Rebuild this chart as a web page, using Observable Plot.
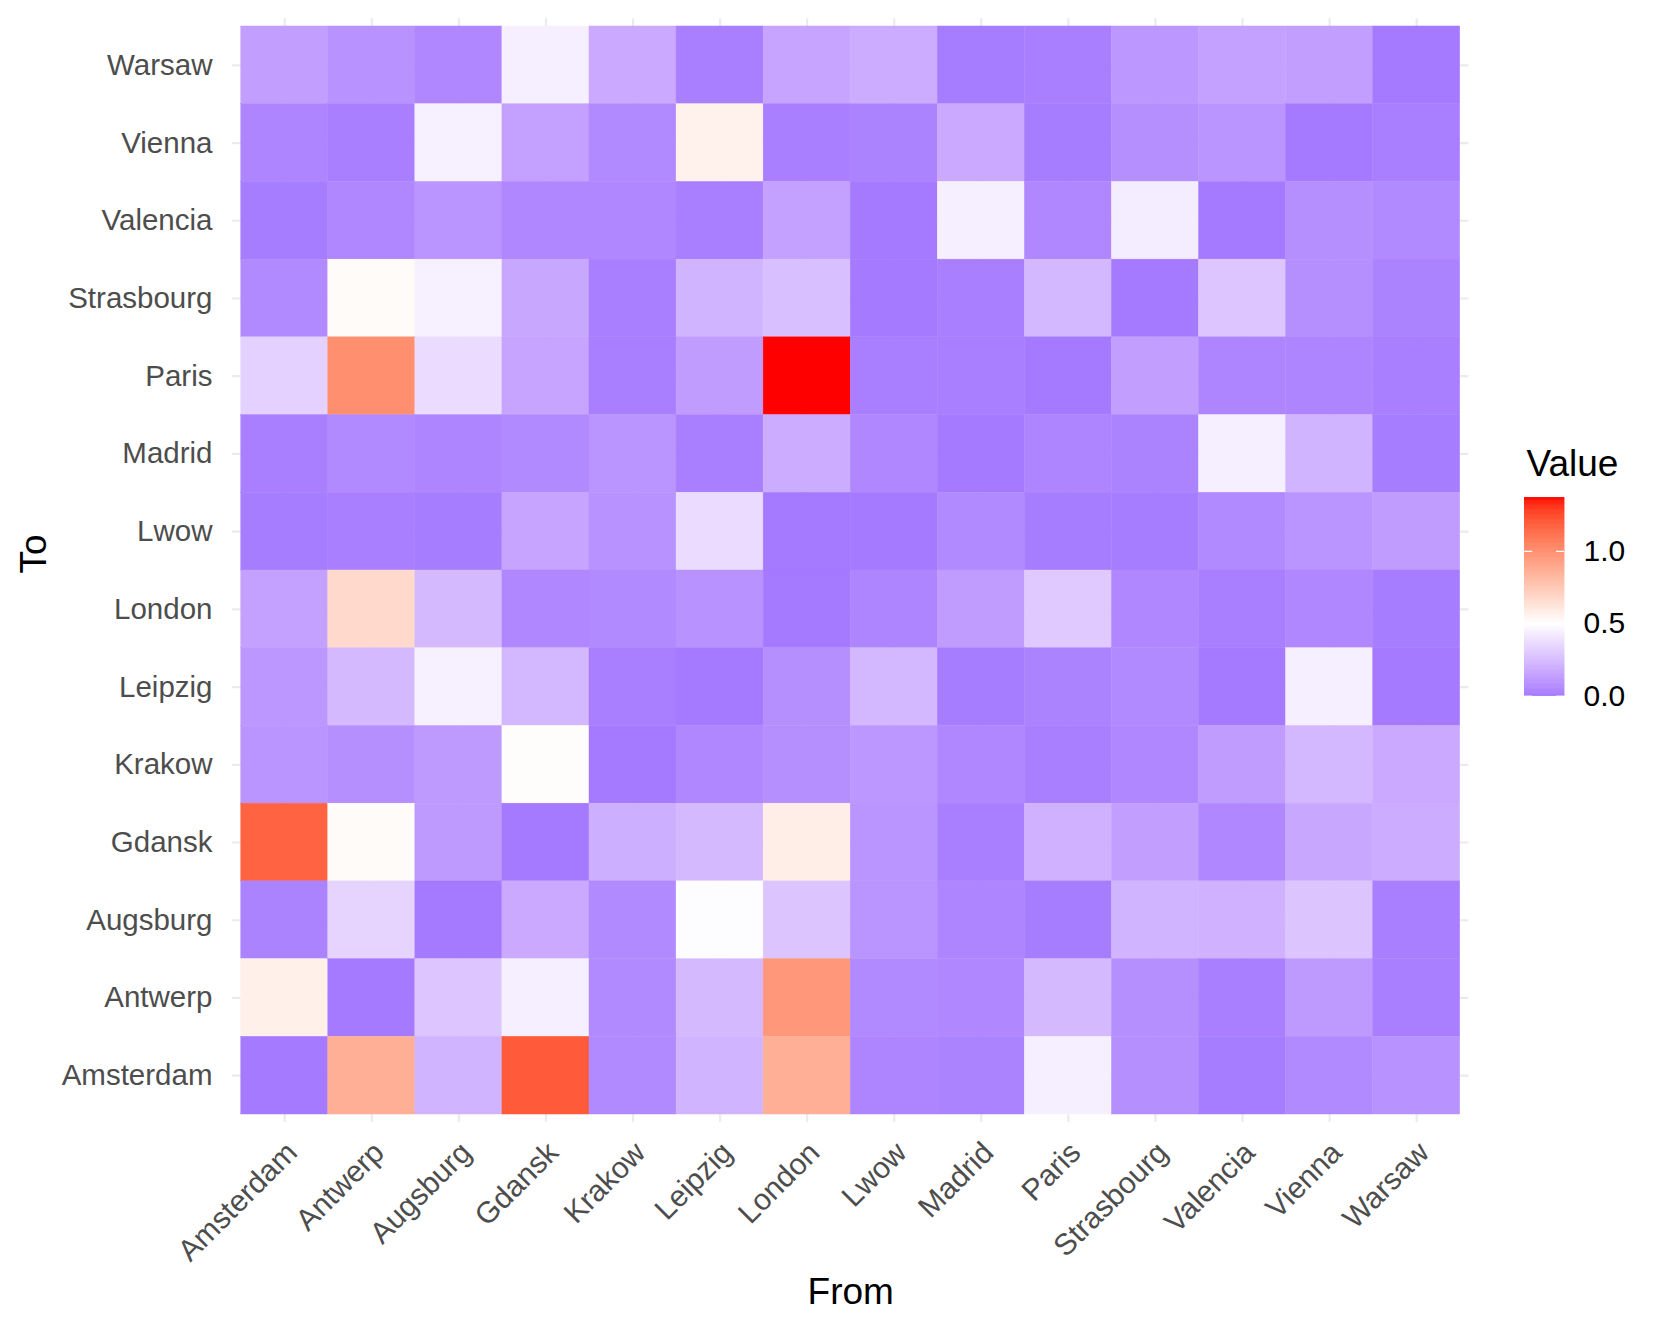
<!DOCTYPE html>
<html>
<head>
<meta charset="utf-8">
<script src="https://cdn.jsdelivr.net/npm/d3@7"></script>
<script src="https://cdn.jsdelivr.net/npm/@observablehq/plot@0.6"></script>
<style>
  html, body { margin: 0; padding: 0; background: #ffffff; }
  #wrap { position: relative; width: 1661px; height: 1329px; overflow: hidden; background: #ffffff; }
  #wrap svg { position: absolute; }
</style>
</head>
<body>
<div id="wrap"></div>
<script>
// ---- Data -------------------------------------------------------------
// Columns: origin city ("From"), alphabetical
const fromCities = ["Amsterdam", "Antwerp", "Augsburg", "Gdansk", "Krakow", "Leipzig", "London",
                    "Lwow", "Madrid", "Paris", "Strasbourg", "Valencia", "Vienna", "Warsaw"];
// Rows: destination city ("To"), top to bottom
const toCities = ["Warsaw", "Vienna", "Valencia", "Strasbourg", "Paris", "Madrid", "Lwow",
                  "London", "Leipzig", "Krakow", "Gdansk", "Augsburg", "Antwerp", "Amsterdam"];

// One row of values per destination, in fromCities order
const toWarsaw     = [0.14, 0.09, 0.05, 0.44, 0.18, 0.02, 0.16, 0.19, 0.01, 0.02, 0.11, 0.15, 0.14, 0.00];
const toVienna     = [0.04, 0.02, 0.45, 0.15, 0.06, 0.56, 0.02, 0.03, 0.18, 0.01, 0.08, 0.10, 0.00, 0.02];
const toValencia   = [0.01, 0.05, 0.10, 0.05, 0.05, 0.02, 0.15, 0.00, 0.44, 0.05, 0.43, 0.00, 0.08, 0.06];
const toStrasbourg = [0.06, 0.52, 0.45, 0.17, 0.02, 0.22, 0.26, 0.00, 0.02, 0.23, 0.00, 0.29, 0.08, 0.03];
const toParis      = [0.33, 1.00, 0.37, 0.16, 0.02, 0.13, 1.37, 0.02, 0.02, 0.00, 0.14, 0.04, 0.04, 0.02];
const toMadrid     = [0.02, 0.06, 0.04, 0.06, 0.10, 0.02, 0.19, 0.05, 0.00, 0.04, 0.03, 0.44, 0.22, 0.01];
const toLwow       = [0.01, 0.02, 0.01, 0.16, 0.09, 0.37, 0.00, 0.00, 0.06, 0.01, 0.01, 0.06, 0.10, 0.13];
const toLondon     = [0.15, 0.67, 0.24, 0.05, 0.06, 0.09, 0.00, 0.04, 0.13, 0.30, 0.05, 0.02, 0.05, 0.01];
const toLeipzig    = [0.11, 0.24, 0.45, 0.23, 0.02, 0.00, 0.08, 0.23, 0.01, 0.03, 0.06, 0.00, 0.44, 0.00];
const toKrakow     = [0.10, 0.08, 0.12, 0.51, 0.00, 0.05, 0.08, 0.11, 0.05, 0.02, 0.05, 0.13, 0.23, 0.18];
const toGdansk     = [1.17, 0.52, 0.12, 0.00, 0.20, 0.24, 0.58, 0.10, 0.02, 0.21, 0.14, 0.05, 0.17, 0.19];
const toAugsburg   = [0.03, 0.34, 0.00, 0.18, 0.06, 0.49, 0.28, 0.10, 0.04, 0.01, 0.22, 0.21, 0.28, 0.02];
const toAntwerp    = [0.57, 0.00, 0.29, 0.44, 0.06, 0.24, 0.96, 0.06, 0.05, 0.24, 0.08, 0.02, 0.12, 0.02];
const toAmsterdam  = [0.00, 0.86, 0.22, 1.20, 0.06, 0.22, 0.86, 0.04, 0.03, 0.44, 0.08, 0.01, 0.06, 0.09];

const legendTicks = [0.0, 0.5, 1.0];

// ---- Table built from the arrays --------------------------------------
const rowsByTo = {
  Warsaw: toWarsaw, Vienna: toVienna, Valencia: toValencia, Strasbourg: toStrasbourg,
  Paris: toParis, Madrid: toMadrid, Lwow: toLwow, London: toLondon, Leipzig: toLeipzig,
  Krakow: toKrakow, Gdansk: toGdansk, Augsburg: toAugsburg, Antwerp: toAntwerp, Amsterdam: toAmsterdam
};
const cells = toCities.flatMap(t => fromCities.map((f, i) => ({from: f, to: t, value: rowsByTo[t][i]})));
const valueExtent = d3.extent(cells, d => d.value);

// ---- Lab (D65) interpolation like ggplot's gradient2 ------------------
function labRamp(stops) {
  const Xn = 0.95047, Zn = 1.08883;
  const lin = c => (c /= 255) <= 0.04045 ? c / 12.92 : Math.pow((c + 0.055) / 1.055, 2.4);
  const gam = c => c <= 0.0031308 ? 12.92 * c : 1.055 * Math.pow(c, 1 / 2.4) - 0.055;
  const f = t => t > 216 / 24389 ? Math.cbrt(t) : (24389 / 27 * t + 16) / 116;
  const fi = t => t > 6 / 29 ? t * t * t : (116 * t - 16) / (24389 / 27);
  const toLab = col => {
    const c = d3.rgb(col), r = lin(c.r), g = lin(c.g), b = lin(c.b);
    const X = (0.4124564 * r + 0.3575761 * g + 0.1804375 * b) / Xn;
    const Y = 0.2126729 * r + 0.7151522 * g + 0.0721750 * b;
    const Z = (0.0193339 * r + 0.1191920 * g + 0.9503041 * b) / Zn;
    const fx = f(X), fy = f(Y), fz = f(Z);
    return [116 * fy - 16, 500 * (fx - fy), 200 * (fy - fz)];
  };
  const fromLab = ([L, a, b]) => {
    const fy = (L + 16) / 116, fx = fy + a / 500, fz = fy - b / 200;
    const X = fi(fx) * Xn, Y = fi(fy), Z = fi(fz) * Zn;
    const r = 3.2404542 * X - 1.5371385 * Y - 0.4985314 * Z;
    const g = -0.9692660 * X + 1.8760108 * Y + 0.0415560 * Z;
    const bb = 0.0556434 * X - 0.2040259 * Y + 1.0572252 * Z;
    const cl = v => Math.max(0, Math.min(255, Math.round(gam(v) * 255)));
    return `rgb(${cl(r)},${cl(g)},${cl(bb)})`;
  };
  const labs = stops.map(toLab);
  return t => {
    t = Math.max(0, Math.min(1, t));
    const n = labs.length - 1;
    const i = Math.min(n - 1, Math.floor(t * n));
    const u = t * n - i;
    const A = labs[i], B = labs[i + 1];
    return fromLab(A.map((v, k) => v + (B[k] - v) * u));
  };
}
const colorOptions = () => ({
  type: "diverging",
  pivot: 0.5,
  symmetric: true,
  domain: valueExtent,
  interpolate: labRamp(["blue", "white", "red"])
});

const FONT = '"Liberation Sans", Arial, Helvetica, sans-serif';

// ---- Main heatmap -----------------------------------------------------
const main = Plot.plot({
  width: 1661,
  height: 1329,
  marginLeft: 232,
  marginRight: 192.6,
  marginTop: 18.2,
  marginBottom: 207.2,
  style: {fontFamily: FONT, color: "#4D4D4D", background: "transparent", overflow: "visible"},
  x: {type: "band", domain: fromCities, padding: 0, round: false, insetLeft: 8.7, insetRight: 8.7, label: null},
  y: {type: "band", domain: toCities, padding: 0, round: false, insetTop: 7.77, insetBottom: 7.77, label: null},
  color: colorOptions(),
  marks: [
    Plot.gridX({stroke: "#EBEBEB", strokeOpacity: 1, strokeWidth: 2.2}),
    Plot.gridY({stroke: "#EBEBEB", strokeOpacity: 1, strokeWidth: 2.2}),
    Plot.cell(cells, {x: "from", y: "to", fill: "value", stroke: "value", strokeWidth: 0.4, inset: 0}),
    Plot.axisX({tickSize: 0, tickRotate: -45, tickPadding: 9, fontSize: 30, dy: 8, dx: -1,
                textAnchor: "end", lineAnchor: "top", label: null}),
    Plot.axisY({tickSize: 0, tickPadding: 20, fontSize: 29.5, label: null}),
    Plot.text(["From"], {text: d => d, frameAnchor: "bottom", dy: 182, lineAnchor: "bottom",
                         fontSize: 37, fill: "#000000"}),
    Plot.text(["To"], {text: d => d, frameAnchor: "left", dx: -187, dy: 3, rotate: -90,
                       lineAnchor: "bottom", fontSize: 37, fill: "#000000"})
  ]
});
main.style.left = "0px";
main.style.top = "0px";
document.getElementById("wrap").appendChild(main);

// ---- Colour bar legend ------------------------------------------------
const nSlices = 240;
const slices = d3.range(nSlices).map(i => {
  const lo = valueExtent[0] + (valueExtent[1] - valueExtent[0]) * i / nSlices;
  const hi = valueExtent[0] + (valueExtent[1] - valueExtent[0]) * (i + 1) / nSlices;
  return {lo, hi, mid: (lo + hi) / 2};
});
const legend = Plot.plot({
  width: 161,
  height: 290,
  marginLeft: 24.3,
  marginRight: 97,
  marginTop: 57.3,
  marginBottom: 34.3,
  style: {fontFamily: FONT, color: "#000000", background: "transparent", overflow: "visible"},
  x: {domain: [0, 1], axis: null},
  y: {domain: valueExtent},
  color: colorOptions(),
  marks: [
    Plot.rect(slices, {x1: 0, x2: 1, y1: "lo", y2: "hi", fill: "mid", stroke: "mid", strokeWidth: 0.6}),
    Plot.ruleY(legendTicks, {x1: 0, x2: 0.2, stroke: "white", strokeWidth: 1.2}),
    Plot.ruleY(legendTicks, {x1: 0.8, x2: 1, stroke: "white", strokeWidth: 1.2}),
    Plot.axisY(legendTicks, {anchor: "right", tickSize: 0, tickPadding: 19, fontSize: 30,
                             tickFormat: d3.format(".1f"), label: null}),
    Plot.text(["Value"], {text: d => d, frameAnchor: "top-left", dx: 1.7, dy: -22.3,
                          textAnchor: "start", lineAnchor: "bottom", fontSize: 37, fill: "#000000"})
  ]
});
legend.style.left = "1500px";
legend.style.top = "440px";
document.getElementById("wrap").appendChild(legend);
</script>
</body>
</html>
